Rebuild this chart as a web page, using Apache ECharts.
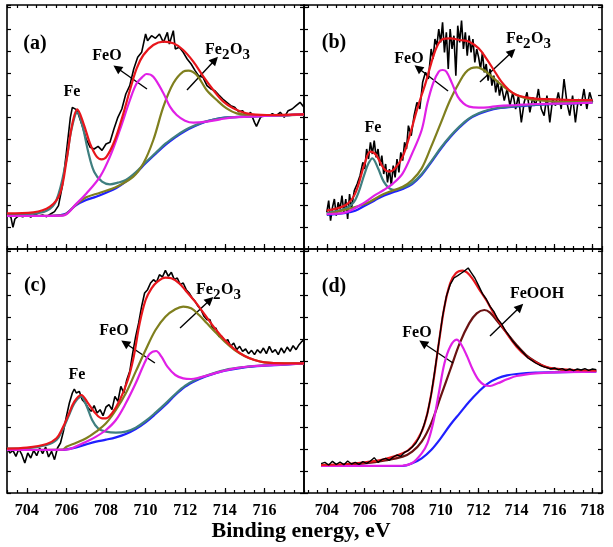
<!DOCTYPE html>
<html>
<head>
<meta charset="utf-8">
<script src="https://cdn.jsdelivr.net/npm/echarts@6/dist/echarts.min.js"></script>
<style>html,body{margin:0;padding:0;background:#fff}#c{width:613px;height:547px}</style>
</head>
<body>
<div id="c"></div>
<script>
// ---------- tick labels ----------
const majorTicksL = [704,706,708,710,712,714,716];
const majorTicksR = [704,706,708,710,712,714,716,718];
const minorTicksL = [703,703.5,704,704.5,705,705.5,706,706.5,707,707.5,708,708.5,709,709.5,710,710.5,711,711.5,712,712.5,713,713.5,714,714.5,715,715.5,716,716.5,717,717.5,718];
const minorTicksR = [703,703.5,704,704.5,705,705.5,706,706.5,707,707.5,708,708.5,709,709.5,710,710.5,711,711.5,712,712.5,713,713.5,714,714.5,715,715.5,716,716.5,717,717.5,718,718.5];

// ---------- panel (a) ----------
const aRaw = [[703.0,105],[703.2,95],[703.3,65],[703.4,90],[703.6,100],[703.8,97],[704.0,103],[704.2,96],[704.4,104],[704.6,99],[704.8,102],[705.0,97],[705.2,105],[705.4,112],[705.6,130],[705.8,190],[706.0,290],[706.2,395],[706.3,425],[706.4,428],[706.5,418],[706.6,405],[706.8,370],[707.0,330],[707.2,305],[707.4,300],[707.6,308],[707.8,296],[708.0,315],[708.2,320],[708.4,360],[708.6,395],[708.8,420],[709.0,465],[709.2,490],[709.4,540],[709.6,575],[709.8,590],[710.0,645],[710.1,625],[710.3,640],[710.5,632],[710.7,645],[710.9,620],[711.1,650],[711.2,615],[711.4,655],[711.5,600],[711.7,605],[711.9,590],[712.1,570],[712.3,555],[712.5,535],[712.7,518],[712.9,515],[713.1,490],[713.3,480],[713.5,475],[713.7,462],[713.9,450],[714.1,440],[714.3,430],[714.5,425],[714.7,412],[714.9,415],[715.1,395],[715.3,410],[715.5,380],[715.6,368],[715.8,395],[716.0,402],[716.2,398],[716.4,406],[716.6,400],[716.8,410],[717.0,395],[717.2,415],[717.4,420],[717.6,430],[717.8,440],[718.0,425]];
const aBg = [[703,99],[705,99],[705.7,102],[706,107],[706.5,132],[707,147],[707.5,157],[708,169],[708.5,182],[709,202],[709.5,227],[710,257],[710.5,285],[711,312],[711.5,335],[712,354],[712.5,369],[713,381],[713.5,389],[714,394],[715,397],[716,399],[717,401],[718,404]];
const aFe = [[703,102],[704,104],[705,115],[705.5,147],[706,267],[706.25,357],[706.55,410],[706.8,372],[707.1,292],[707.4,232],[707.8,202],[708.2,194],[708.6,199],[709,207],[709.5,230],[710,260],[710.5,288],[711,316],[711.5,338],[712,357],[712.5,371],[713,382],[714,394],[715,397],[716,399],[717,401],[718,404]];
const aFeO = [[703,99],[705.8,100],[706.52,137],[707.02,167],[707.7,217],[708.2,277],[708.7,357],[709.21,447],[709.55,497],[709.89,519],[710.05,525],[710.39,517],[710.9,467],[711.23,427],[711.57,402],[711.99,385],[712.41,379],[713.08,382],[713.76,389],[714.43,395],[715.27,397],[716,399],[717,401],[718,404]];
const aFe2O3 = [[703,99],[705.8,101],[706.5,134],[707.0,155],[707.7,169],[708.54,187],[709.38,217],[709.89,257],[710.39,327],[710.9,427],[711.4,497],[711.9,532],[712.16,535],[712.58,522],[713.08,477],[713.59,447],[714.09,422],[714.6,407],[715.27,402],[716,400],[717,401],[718,404]];
const aEnv = [[703,107],[704.33,110],[705.17,127],[705.68,167],[706.01,267],[706.27,367],[706.55,419],[706.86,377],[707.19,317],[707.53,277],[707.78,269],[708.03,277],[708.45,327],[708.88,407],[709.21,477],[709.55,542],[709.89,582],[710.39,612],[710.9,622],[711.4,617],[711.9,597],[712.41,562],[712.92,517],[713.42,477],[713.93,442],[714.43,422],[715.1,407],[716.11,402],[718,404]];

// ---------- panel (b) ----------
const bRaw = [[704.0,110],[704.1,145],[704.2,85],[704.3,125],[704.4,150],[704.5,100],[704.6,140],[704.7,120],[704.8,160],[704.9,110],[705.0,150],[705.1,90],[705.2,165],[705.3,120],[705.45,175],[705.6,195],[705.75,220],[705.9,260],[706.0,240],[706.1,300],[706.2,270],[706.3,320],[706.4,285],[706.5,325],[706.6,275],[706.7,300],[706.8,250],[706.9,280],[707.0,225],[707.1,255],[707.2,200],[707.3,240],[707.4,190],[707.5,250],[707.6,215],[707.7,270],[707.8,230],[707.9,290],[708.0,265],[708.1,320],[708.2,300],[708.3,370],[708.45,340],[708.6,400],[708.75,440],[708.9,420],[709.05,500],[709.2,530],[709.35,510],[709.5,600],[709.6,570],[709.7,630],[709.8,610],[709.9,660],[710.0,620],[710.1,680],[710.2,590],[710.3,650],[710.4,540],[710.5,660],[710.6,600],[710.7,640],[710.8,520],[710.9,670],[711.0,620],[711.1,685],[711.2,600],[711.3,650],[711.4,580],[711.5,640],[711.6,590],[711.7,630],[711.8,560],[711.9,600],[712.0,575],[712.1,540],[712.2,590],[712.3,530],[712.4,555],[712.5,505],[712.6,540],[712.7,490],[712.8,520],[712.9,470],[713.0,505],[713.1,460],[713.2,490],[713.35,445],[713.5,480],[713.65,430],[713.8,470],[713.95,420],[714.1,460],[714.25,380],[714.4,440],[714.55,470],[714.7,410],[714.85,455],[715.0,430],[715.15,480],[715.3,420],[715.45,400],[715.6,460],[715.75,380],[715.9,450],[716.05,430],[716.2,470],[716.35,420],[716.5,510],[716.65,440],[716.8,400],[716.95,460],[717.1,380],[717.25,450],[717.4,430],[717.55,480],[717.7,420],[717.85,470],[718.0,440]];
const bBg = [[704,102],[705,108],[705.5,115],[706,130],[706.5,145],[707,160],[707.5,170],[708,180],[708.5,195],[709,222],[709.5,260],[710,300],[710.5,335],[711,365],[711.5,390],[712,405],[712.5,415],[713,422],[714,428],[715,432],[716,435],[717,437],[718,440]];
const bFe = [[704,108],[705,122],[705.5,147],[706,227],[706.2,257],[706.4,272],[706.7,242],[707,202],[707.3,182],[707.6,177],[708,184],[708.5,198],[709,225],[709.5,263],[710,303],[710.5,338],[711,368],[711.5,392],[712,407],[712.5,417],[713,423],[714,429],[715,433],[716,435],[717,437],[718,440]];
const bFeO = [[704,105],[705,110],[706,140],[706.5,160],[707,177],[707.5,197],[708,227],[708.5,287],[709,357],[709.3,437],[709.6,497],[709.9,532],[710.1,537],[710.3,532],[710.6,497],[710.9,457],[711.2,437],[711.5,427],[712,424],[712.5,425],[713,429],[714,432],[715,435],[716,436],[718,439]];
const bFe2O3 = [[704,104],[706,135],[707,165],[708,187],[708.5,207],[709,242],[709.5,307],[710,377],[710.5,447],[711,502],[711.3,529],[711.6,542],[711.9,545],[712.1,542],[712.5,527],[713,502],[713.5,479],[714,462],[714.5,452],[715,447],[716,442],[717,441],[718,441]];
const bEnv = [[704,115],[705,132],[705.5,167],[706,257],[706.3,292],[706.6,282],[707,242],[707.3,232],[707.6,242],[708,277],[708.4,347],[708.8,427],[709.2,497],[709.5,557],[709.8,607],[710.1,629],[710.5,632],[711,627],[711.5,622],[712,602],[712.4,572],[712.8,537],[713.2,502],[713.6,477],[714,462],[714.5,455],[715,451],[716,449],[717,447],[718,447]];

// ---------- panel (c) ----------
const cRaw = [[703.0,135],[703.15,120],[703.3,128],[703.45,110],[703.6,132],[703.75,115],[703.9,90],[704.05,120],[704.2,105],[704.35,128],[704.5,112],[704.65,135],[704.8,118],[704.95,138],[705.1,108],[705.25,125],[705.4,100],[705.55,135],[705.7,150],[705.85,185],[706.0,230],[706.15,270],[706.3,300],[706.4,312],[706.5,300],[706.65,305],[706.8,280],[706.95,270],[707.1,255],[707.25,245],[707.4,262],[707.55,240],[707.7,250],[707.85,232],[708.0,258],[708.15,265],[708.3,250],[708.45,290],[708.6,275],[708.75,320],[708.9,300],[709.05,340],[709.2,365],[709.35,420],[709.5,470],[709.65,510],[709.8,560],[709.95,600],[710.1,610],[710.25,630],[710.4,640],[710.55,632],[710.7,655],[710.85,648],[711.0,668],[711.15,650],[711.3,662],[711.45,640],[711.6,645],[711.75,625],[711.9,630],[712.05,610],[712.2,600],[712.35,585],[712.5,575],[712.65,560],[712.8,550],[712.95,530],[713.1,520],[713.25,520],[713.4,490],[713.55,495],[713.7,470],[713.85,470],[714.0,455],[714.15,460],[714.3,440],[714.45,450],[714.6,430],[714.75,440],[714.9,425],[715.05,432],[715.2,418],[715.35,428],[715.5,415],[715.65,430],[715.8,420],[715.95,435],[716.1,418],[716.25,440],[716.4,422],[716.55,430],[716.7,415],[716.85,435],[717.0,420],[717.15,438],[717.3,425],[717.45,442],[717.6,430],[717.75,445],[717.9,455],[718.0,460]];
const cBg = [[703,129],[705.8,129],[706,131],[706.5,137],[707,146],[707.5,154],[708,160],[708.5,167],[709,177],[709.5,192],[710,212],[710.5,237],[711,264],[711.5,294],[712,319],[712.5,336],[713,349],[713.5,359],[714,367],[715,377],[716,382],[717,385],[718,389]];
const cFe = [[703,133],[704,134],[705,144],[705.5,159],[705.8,189],[706.1,229],[706.4,269],[706.75,289],[707,264],[707.3,219],[707.6,194],[708,184],[708.5,181],[709,184],[709.5,196],[710,216],[710.5,241],[711,268],[711.5,297],[712,322],[712.5,339],[713,351],[714,369],[715,378],[716,383],[717,386],[718,389]];
const cFeO = [[703,129],[706,130],[706.5,140],[707,154],[707.5,169],[708,189],[708.5,219],[709,269],[709.5,329],[709.9,384],[710.2,417],[710.53,426],[710.8,409],[711.1,379],[711.5,354],[711.9,344],[712.3,342],[712.7,346],[713.2,354],[713.8,364],[714.5,374],[715.5,381],[716.5,384],[718,389]];
const cFe2O3 = [[703,129],[705.8,130],[706,139],[706.5,151],[707,164],[707.5,184],[708,209],[708.5,249],[709,299],[709.5,364],[710,429],[710.5,489],[711,529],[711.5,551],[711.9,559],[712.3,554],[712.7,534],[713.1,509],[713.5,484],[714,454],[714.5,429],[715,411],[715.5,399],[716,392],[717,389],[718,389]];
const cEnv = [[703,133],[704,136],[705,147],[705.5,164],[705.8,194],[706.1,234],[706.4,274],[706.75,294],[707.1,269],[707.4,244],[707.8,224],[708,224],[708.3,239],[708.7,279],[709.1,339],[709.4,409],[709.7,509],[710,579],[710.3,614],[710.6,634],[711,646],[711.3,644],[711.7,629],[712,609],[712.5,574],[713,534],[713.5,494],[714,459],[714.5,431],[715,411],[715.5,399],[716,392],[717,389],[718,389]];

// ---------- panel (d) ----------
const dRaw = [[703.7,88],[703.9,92],[704.1,84],[704.3,95],[704.5,86],[704.7,93],[704.9,85],[705.1,96],[705.3,87],[705.5,92],[705.7,86],[705.9,94],[706.1,89],[706.3,96],[706.5,106],[706.7,92],[706.9,100],[707.1,104],[707.3,98],[707.5,108],[707.7,114],[707.9,110],[708.1,122],[708.3,128],[708.5,138],[708.7,150],[708.9,170],[709.1,200],[709.3,238],[709.5,295],[709.7,370],[709.9,450],[710.1,530],[710.3,590],[710.5,625],[710.7,645],[710.9,652],[711.1,660],[711.3,668],[711.45,675],[711.6,662],[711.8,645],[712.0,622],[712.2,598],[712.4,582],[712.6,560],[712.8,545],[713.0,522],[713.2,508],[713.4,488],[713.6,472],[713.8,455],[714.0,442],[714.2,430],[714.4,418],[714.6,405],[714.8,398],[715.0,390],[715.2,384],[715.4,379],[715.6,376],[715.8,372],[716.0,375],[716.2,370],[716.4,373],[716.6,368],[716.8,372],[717.0,367],[717.2,372],[717.4,369],[717.6,373],[717.8,368],[718.0,372],[718.2,370]];
const dBg = [[703.7,81],[708,81],[708.5,89],[709,104],[709.5,129],[710,164],[710.5,204],[711,239],[711.5,274],[712,304],[712.5,329],[713,344],[713.5,353],[714,357],[715,361],[716,362],[717,363],[718.2,364]];
const dFeO = [[703.7,81],[708,82],[708.5,90],[709,119],[709.3,149],[709.6,209],[709.9,299],[710.2,389],[710.5,439],[710.84,460],[711.1,444],[711.4,409],[711.7,369],[712,339],[712.3,324],[712.6,321],[713,329],[713.5,341],[714,351],[715,359],[716,362],[718.2,364]];
const dFeOOH = [[703.7,82],[705,84],[706,89],[707,97],[708,109],[708.5,124],[709,154],[709.5,209],[710,289],[710.5,369],[711,449],[711.5,509],[711.9,539],[712.3,549],[712.6,541],[713,514],[713.5,479],[714,444],[714.5,414],[715,394],[715.5,379],[716,372],[717,368],[718.2,366]];
const dEnv = [[703.7,84],[705,87],[706,92],[707,101],[708,119],[708.5,139],[709,184],[709.3,239],[709.6,329],[709.9,449],[710.2,559],[710.5,629],[710.8,659],[711.15,667],[711.4,661],[711.7,641],[712,614],[712.4,579],[712.8,539],[713.2,504],[713.6,469],[714,439],[714.5,411],[715,392],[715.5,379],[716,373],[717,369],[718.2,367]];

// ---------- annotations (data coordinates: [x1,y1,x2,y2], tail -> head) ----------
const arrowsA = [[710.07,480,708.56,543],[712.09,477,713.5,567]];
const arrowsB = [[710.39,474,708.81,543],[712.07,501,713.76,591]];
const arrowsC = [[710.47,390,708.96,450],[711.74,495,713.25,579]];
const arrowsD = [[710.65,390,709.07,450],[712.6,471,714.18,558]];

const FONT = '"Liberation Serif", "Times New Roman", serif';
const C = {raw:'#000000', env:'#e8161c', fe:'#3f7f80', feo:'#e020e6', fe2o3:'#7f7f1e', bg:'#1f1fff', feooh:'#6a1212'};

const grids = [
  {left:7, top:5, width:297, height:244},
  {left:304, top:5, width:298, height:244},
  {left:7, top:249, width:297, height:244},
  {left:304, top:249, width:298, height:244}
];
const xR = [[703,718],[702.8,718.5],[703,718],[702.8,718.5]];

const xAxes = [], yAxes = [];
grids.forEach((g, k) => {
  const right = k % 2 === 1, bottom = k >= 2;
  const major = right ? majorTicksR : majorTicksL;
  const minor = right ? minorTicksR : minorTicksL;
  const base = {type:'value', gridIndex:k, min:xR[k][0], max:xR[k][1], splitLine:{show:false}, axisLine:{show:false}};
  xAxes.push(Object.assign({}, base, {
    position:'bottom',
    axisTick:{show:true, inside:true, length:5, customValues:major, lineStyle:{color:'#000', width:1.2}},
    axisLabel:{show:bottom, customValues:major, margin:10, fontFamily:FONT, fontWeight:'bold', fontSize:16, color:'#000'}
  }));
  xAxes.push(Object.assign({}, base, {
    position:'bottom',
    axisTick:{show:true, inside:true, length:3, customValues:minor, lineStyle:{color:'#000', width:1.2}},
    axisLabel:{show:false}
  }));
  xAxes.push(Object.assign({}, base, {
    position:'top',
    axisTick:{show:true, inside:true, length:3, customValues:minor, lineStyle:{color:'#000', width:1.2}},
    axisLabel:{show:false}
  }));
  const ybase = {type:'value', gridIndex:k, min:0, max:732, interval:66, splitLine:{show:false}, axisLine:{show:false},
    axisLabel:{show:false}, axisTick:{show:true, inside:true, length:4, lineStyle:{color:'#000', width:1.2}}};
  yAxes.push(Object.assign({}, ybase, {position:'left'}));
  yAxes.push(Object.assign({}, ybase, {position:'right'}));
});

function ln(data, color, width, k, z, smooth) {
  return {type:'line', data, xAxisIndex:k*3, yAxisIndex:k*2, symbol:'none', showSymbol:false,
    smooth: smooth ? 0.35 : false, lineStyle:{color, width}, z, silent:true, animation:false};
}
function arrows(list) {
  return {silent:true, animation:false, symbol:['none','triangle'], symbolSize:9, symbolRotate:null,
    lineStyle:{color:'#000', width:1.4, type:'solid'}, itemStyle:{color:'#000'}, label:{show:false}, emphasis:{disabled:true},
    data:list.map(a => [{coord:[a[0],a[1]]},{coord:[a[2],a[3]]}])};
}

const series = [];
// (a)
series.push(ln(aRaw, C.raw, 1.6, 0, 2, false));
series.push(ln(aBg, C.bg, 2.2, 0, 3, true));
series.push(ln(aFe, C.fe, 2.2, 0, 4, true));
series.push(ln(aFe2O3, C.fe2o3, 2.2, 0, 5, true));
series.push(ln(aFeO, C.feo, 2.2, 0, 6, true));
const sa = ln(aEnv, C.env, 2.2, 0, 7, true); sa.markLine = arrows(arrowsA); series.push(sa);
// (b)
series.push(ln(bRaw, C.raw, 1.6, 1, 2, false));
series.push(ln(bBg, C.bg, 2.2, 1, 3, true));
series.push(ln(bFe, C.fe, 2.2, 1, 4, true));
series.push(ln(bFe2O3, C.fe2o3, 2.2, 1, 5, true));
series.push(ln(bFeO, C.feo, 2.2, 1, 6, true));
const sb = ln(bEnv, C.env, 2.2, 1, 7, true); sb.markLine = arrows(arrowsB); series.push(sb);
// (c)
series.push(ln(cRaw, C.raw, 1.6, 2, 2, false));
series.push(ln(cBg, C.bg, 2.2, 2, 3, true));
series.push(ln(cFe, C.fe, 2.2, 2, 4, true));
series.push(ln(cFe2O3, C.fe2o3, 2.2, 2, 5, true));
series.push(ln(cFeO, C.feo, 2.2, 2, 6, true));
const sc = ln(cEnv, C.env, 2.2, 2, 7, true); sc.markLine = arrows(arrowsC); series.push(sc);
// (d)
series.push(ln(dBg, C.bg, 2.2, 3, 3, true));
series.push(ln(dFeOOH, C.feooh, 2.2, 3, 4, true));
series.push(ln(dFeO, C.feo, 2.2, 3, 5, true));
const sd = ln(dEnv, C.env, 2.2, 3, 6, true); sd.markLine = arrows(arrowsD); series.push(sd);
series.push(ln(dRaw, C.raw, 1.4, 3, 7, false));

function txt(s, x, y, size, align) {
  return {type:'text', x, y, silent:true, z:100,
    style:{text:s, fontFamily:FONT, fontWeight:'bold', fontSize:size, fill:'#000', align:align||'center', verticalAlign:'middle'}};
}
function fe2o3(x0, y) {
  return [txt('Fe', x0, y, 16, 'left'), txt('2', x0+17, y+5, 15, 'left'), txt('O', x0+25, y, 16, 'left'), txt('3', x0+37.5, y+5, 15, 'left')];
}
const graphics = [
  txt('(a)', 35, 44, 20), txt('Fe', 72, 92, 16), txt('FeO', 107, 56, 16), ...fe2o3(205, 50),
  txt('(b)', 334, 43, 20), txt('Fe', 373, 128, 16), txt('FeO', 409, 59, 16), ...fe2o3(506, 39),
  txt('(c)', 35, 286, 20), txt('Fe', 77, 375, 16), txt('FeO', 114, 331, 16), ...fe2o3(196, 290),
  txt('(d)', 334, 287, 20), txt('FeO', 417, 333, 16), txt('FeOOH', 537, 294, 16),
  txt('Binding energy, eV', 301, 531, 22)
];

const chart = echarts.init(document.getElementById('c'), null, {renderer:'canvas'});
chart.setOption({
  backgroundColor:'#fff',
  animation:false,
  grid: grids.map(g => Object.assign({show:true, borderColor:'#000', borderWidth:1.6, backgroundColor:'transparent'}, g)),
  xAxis: xAxes,
  yAxis: yAxes,
  series,
  graphic: graphics
});
</script>
</body>
</html>
